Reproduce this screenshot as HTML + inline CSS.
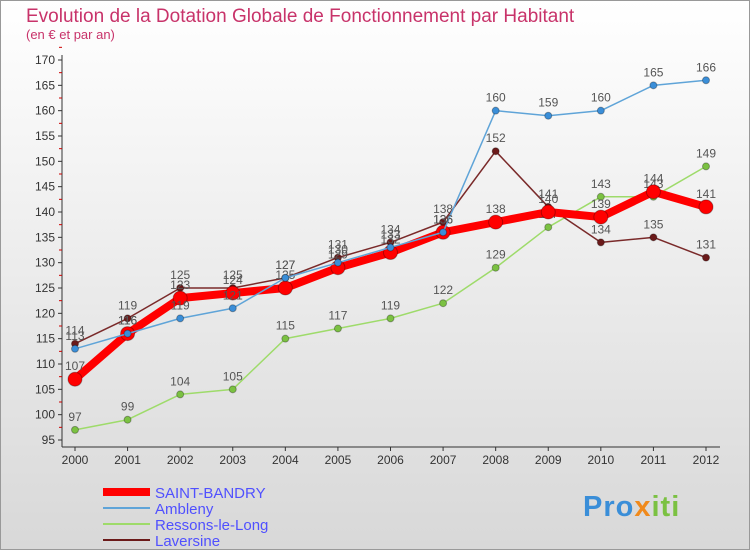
<!DOCTYPE html>
<html><head><meta charset="utf-8"><style>
body{margin:0;width:750px;height:550px;overflow:hidden;font-family:"Liberation Sans",sans-serif}
</style></head><body>
<svg width="750" height="550" xmlns="http://www.w3.org/2000/svg" font-family="Liberation Sans, sans-serif">
<defs><linearGradient id="bg" x1="0" y1="0" x2="0" y2="1"><stop offset="0" stop-color="#ffffff"/><stop offset="1" stop-color="#d8d8d8"/></linearGradient></defs>
<rect x="0.5" y="0.5" width="749" height="549" fill="url(#bg)" stroke="#999"/>
<text x="26" y="22" font-size="19" fill="#c8336a">Evolution de la Dotation Globale de Fonctionnement par Habitant</text>
<text x="26" y="39" font-size="13" fill="#c8336a">(en € et par an)</text>
<g id="axes"></g>
<g id="series"></g>
<g>
<line x1="103" y1="492" x2="150" y2="492" stroke="#ff0000" stroke-width="8"/>
<text x="155" y="498" font-size="15" fill="#5050ff">SAINT-BANDRY</text>
<line x1="103" y1="508" x2="150" y2="508" stroke="#5fa4d8" stroke-width="2"/>
<text x="155" y="514" font-size="15" fill="#5050ff">Ambleny</text>
<line x1="103" y1="524" x2="150" y2="524" stroke="#9edb6a" stroke-width="2"/>
<text x="155" y="530" font-size="15" fill="#5050ff">Ressons-le-Long</text>
<line x1="103" y1="540" x2="150" y2="540" stroke="#6b1a1a" stroke-width="2"/>
<text x="155" y="546" font-size="15" fill="#5050ff">Laversine</text>
</g>
<text x="583" y="516" font-size="29" font-weight="bold" fill="#3a8ed8" letter-spacing="1">Pro<tspan fill="#f08a1c">x</tspan><tspan fill="#7bc142">iti</tspan></text>
</svg>
<script>
const years=[2000,2001,2002,2003,2004,2005,2006,2007,2008,2009,2010,2011,2012];
const saint=[107,116,123,124,125,129,132,136,138,140,139,144,141];
const ambleny=[113,116,119,121,127,130,133,136,160,159,160,165,166];
const ressons=[97,99,104,105,115,117,119,122,129,137,143,143,149];
const laversine=[114,119,125,125,127,131,134,138,152,141,134,135,131];
const yTicks=[95,100,105,110,115,120,125,130,135,140,145,150,155,160,165,170];
const NS="http://www.w3.org/2000/svg";
const X=i=>75+i*(706-75)/12;
const Y=v=>440-(v-95)*(380/75);
function mk(tag,attrs,parent){const e=document.createElementNS(NS,tag);for(const k in attrs)e.setAttribute(k,attrs[k]);parent.appendChild(e);return e;}
const ax=document.getElementById('axes');
const yl=mk('line',{x1:62,y1:55,x2:62,y2:447,stroke:'#333'},ax);


const xl=mk('line',{x1:62,y1:447,x2:720,y2:447,stroke:'#333'},ax);


yTicks.forEach(v=>{
  mk('line',{x1:58,y1:Y(v),x2:62,y2:Y(v),stroke:'#333'},ax);
  mk('line',{x1:59,y1:Y(v+2.5),x2:62,y2:Y(v+2.5),stroke:'#c00'},ax);
  const t=mk('text',{x:55,y:Y(v)+4,'text-anchor':'end','font-size':12,fill:'#333'},ax);
  t.textContent=v;
  
  
});
years.forEach((y,i)=>{
  mk('line',{x1:X(i),y1:447,x2:X(i),y2:451,stroke:'#333'},ax);
  const t=mk('text',{x:X(i),y:464,'text-anchor':'middle','font-size':12,fill:'#333'},ax);
  t.textContent=y;
  
  
});
const sg=document.getElementById('series');
function draw(data,name,color,w,r,pc){
  const g=mk('g',{},sg);
  
  
  const line=mk('polyline',{points:data.map((v,i)=>X(i)+','+Y(v)).join(' '),fill:'none',stroke:color,'stroke-width':w,'stroke-linejoin':'round'},g);
  
  
  data.forEach((v,i)=>{
    const c=mk('circle',{cx:X(i),cy:Y(v),r:r,fill:pc,stroke:'rgba(0,0,0,0.3)'},g);
    
    
    const t=mk('text',{x:X(i),y:Y(v)-9,'text-anchor':'middle','font-size':12,fill:'#555'},g);
    t.textContent=v;
    
    
  });
}
draw(ressons,'ressons-le-long','#9edb6a',1.5,3.5,'#7bc142');
draw(laversine,'laversine','#7a2a2a',1.5,3.5,'#6b1a1a');
draw(saint,'saint-bandry','#ff0000',8,7,'#ff0000');
draw(ambleny,'ambleny','#5fa4d8',1.5,3.5,'#3a8ed8');
</script>
</body></html>
